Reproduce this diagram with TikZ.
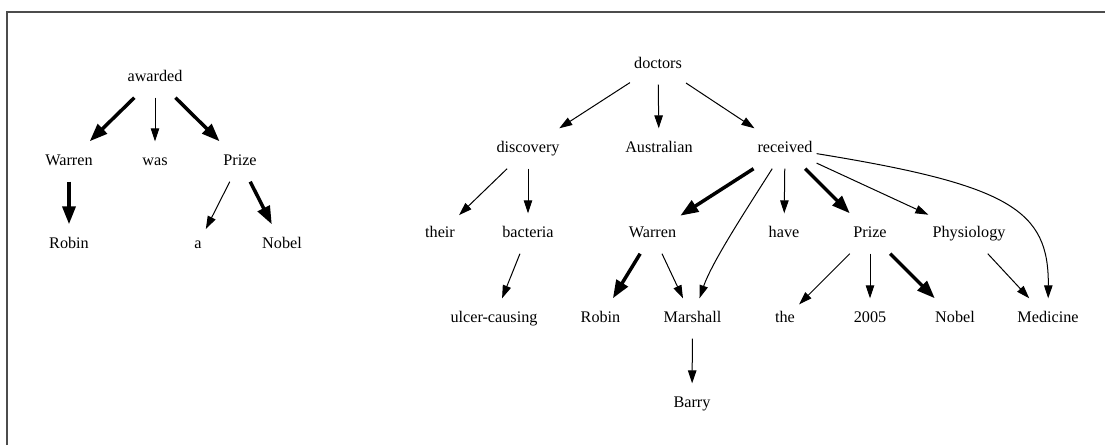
\documentclass[tikz,border=0pt]{standalone}
\usepackage{fontspec}
\setmainfont{Liberation Serif}
\usetikzlibrary{arrows.meta}
\begin{document}
\begin{tikzpicture}[x=1pt,y=-1pt,
  word/.style={rectangle, inner xsep=4pt, inner ysep=0pt,
    minimum height=40pt, text height=11.5pt, text depth=3.5pt,
    font=\fontsize{16.2}{19}\selectfont},
  dep/.style={line width=1pt, -{Triangle[length=13pt,width=8.5pt]}},
  head/.style={line width=3.5pt, -{Triangle[length=18pt,width=13pt]}},
  frameline/.style={draw=black!70, line width=1.3pt}
]
\useasboundingbox (0,0) rectangle (1105,445);
\draw[frameline] (7,445) -- (7,12) -- (1105,12);

% ---- small tree ----
\node[word] (aw)  at (155,77.5)  {awarded};
\node[word] (lW)  at (69,161.5)  {Warren};
\node[word] (was) at (155,161.5) {was};
\node[word] (lP)  at (240,161.5) {Prize};
\node[word] (lR)  at (69,244.5)  {Robin};
\node[word] (la)  at (198,244.5) {a};
\node[word] (lN)  at (282,244.5) {Nobel};

\draw[head] (aw) -- (lW);
\draw[dep]  (aw) -- (was);
\draw[head] (aw) -- (lP);
\draw[head] (lW) -- (lR);
\draw[dep]  (lP) -- (la);
\draw[head] (lP) -- (lN);

% ---- large tree ----
\node[word] (doc)  at (658,64.5)   {doctors};
\node[word] (disc) at (528,148.5)  {discovery};
\node[word] (aus)  at (659,148.5)  {Australian};
\node[word] (rec)  at (785,148.5)  {received};
\node[word] (their) at (440,233.5) {their};
\node[word] (bact) at (528,233.5)  {bacteria};
\node[word] (rW)   at (652.5,233.5) {Warren};
\node[word] (have) at (784,233.5)  {have};
\node[word] (rP)   at (870,233.5)  {Prize};
\node[word] (phys) at (969,233.5)  {Physiology};
\node[word] (ulc)  at (494,318.5)  {ulcer-causing};
\node[word] (rR)   at (600.5,318.5) {Robin};
\node[word] (mar)  at (692.5,318.5) {Marshall};
\node[word] (the)  at (785,318.5)  {the};
\node[word] (yr)   at (870,318.5)  {2005};
\node[word] (rN)   at (955,318.5)  {Nobel};
\node[word] (med)  at (1048,318.5) {Medicine};
\node[word] (bar)  at (692,403.5)  {Barry};

\draw[dep]  (doc) -- (disc);
\draw[dep]  (doc) -- (aus);
\draw[dep]  (doc) -- (rec);
\draw[dep]  (disc) -- (their);
\draw[dep]  (disc) -- (bact);
\draw[dep]  (bact) -- (ulc);
\draw[head] (rec) -- (rW);
\draw[dep]  (rec) .. controls (746,210) and (712,262) .. (mar);
\draw[dep]  (rec) -- (have);
\draw[head] (rec) -- (rP);
\draw[dep]  (rec) -- (phys);
\draw[dep]  (rec) .. controls (1010,185) and (1049,210) .. (med);
\draw[head] (rW) -- (rR);
\draw[dep]  (rW) -- (mar);
\draw[dep]  (mar) -- (bar);
\draw[dep]  (rP) -- (the);
\draw[dep]  (rP) -- (yr);
\draw[head] (rP) -- (rN);
\draw[dep]  (phys) -- (med);
\end{tikzpicture}
\end{document}
